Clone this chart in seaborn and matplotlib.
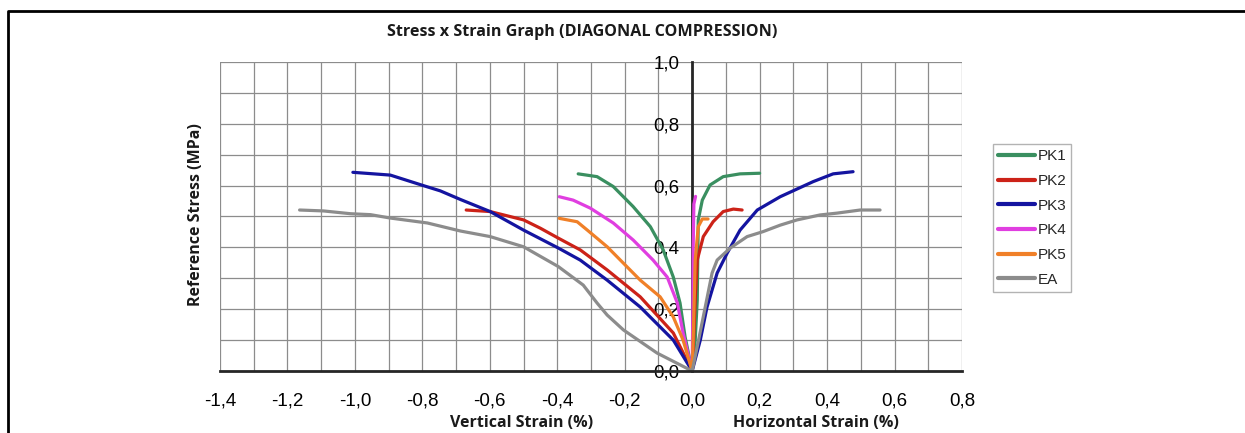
import numpy as np
import pandas as pd
import matplotlib
matplotlib.use("Agg")
import matplotlib.pyplot as plt
from matplotlib.ticker import MultipleLocator, FuncFormatter
import seaborn as sns

specimens = ["PK1", "PK2", "PK3", "PK4", "PK5", "EA"]
colors = ["#3a8f60", "#cc2218", "#1414a0", "#e03ee0", "#f08028", "#8c8c8c"]

# vertical strain branch (negative side) and horizontal strain branch (positive side)
pk1_vert_x = [-0.338, -0.282, -0.234, -0.175, -0.124, -0.086, -0.056, -0.036, -0.021, 0.0]
pk1_vert_y = [0.638, 0.629, 0.597, 0.532, 0.467, 0.392, 0.304, 0.220, 0.110, 0.0]
pk1_horz_x = [0.0, 0.009, 0.015, 0.018, 0.030, 0.053, 0.092, 0.142, 0.200]
pk1_horz_y = [0.0, 0.10, 0.23, 0.489, 0.553, 0.602, 0.629, 0.638, 0.640]

pk2_vert_x = [-0.670, -0.599, -0.500, -0.450, -0.397, -0.332, -0.252, -0.154, -0.056, 0.0]
pk2_vert_y = [0.521, 0.516, 0.489, 0.462, 0.430, 0.392, 0.327, 0.240, 0.123, 0.0]
pk2_horz_x = [0.0, 0.005, 0.009, 0.015, 0.033, 0.062, 0.092, 0.122, 0.148]
pk2_horz_y = [0.0, 0.12, 0.23, 0.359, 0.435, 0.483, 0.516, 0.524, 0.521]

pk3_vert_x = [-1.006, -0.895, -0.797, -0.747, -0.687, -0.599, -0.500, -0.397, -0.332, -0.252, -0.154, -0.056, 0.0]
pk3_vert_y = [0.643, 0.634, 0.600, 0.583, 0.555, 0.516, 0.456, 0.398, 0.359, 0.294, 0.207, 0.100, 0.0]
pk3_horz_x = [0.0, 0.024, 0.044, 0.074, 0.104, 0.142, 0.193, 0.261, 0.359, 0.418, 0.477]
pk3_horz_y = [0.0, 0.10, 0.207, 0.317, 0.382, 0.456, 0.521, 0.564, 0.613, 0.638, 0.645]

pk4_vert_x = [-0.394, -0.353, -0.302, -0.234, -0.175, -0.116, -0.074, -0.044, -0.027, 0.0]
pk4_vert_y = [0.564, 0.553, 0.527, 0.479, 0.424, 0.359, 0.304, 0.220, 0.123, 0.0]
pk4_horz_x = [0.0, 0.002, 0.003, 0.005, 0.010]
pk4_horz_y = [0.0, 0.20, 0.40, 0.54, 0.565]

pk5_vert_x = [-0.394, -0.341, -0.311, -0.252, -0.204, -0.154, -0.095, -0.056, -0.027, 0.0]
pk5_vert_y = [0.494, 0.483, 0.456, 0.402, 0.349, 0.294, 0.240, 0.175, 0.100, 0.0]
pk5_horz_x = [0.0, 0.004, 0.009, 0.018, 0.030, 0.047]
pk5_horz_y = [0.0, 0.142, 0.359, 0.467, 0.492, 0.492]

ea_vert_x = [-1.164, -1.093, -1.013, -0.954, -0.895, -0.785, -0.687, -0.599, -0.500, -0.397,
             -0.323, -0.282, -0.252, -0.204, -0.104, 0.0]
ea_vert_y = [0.521, 0.518, 0.509, 0.506, 0.495, 0.479, 0.453, 0.435, 0.402, 0.338,
             0.278, 0.220, 0.181, 0.133, 0.058, 0.0]
ea_horz_x = [0.0, 0.015, 0.033, 0.047, 0.059, 0.074, 0.113, 0.163, 0.210, 0.261, 0.311,
             0.379, 0.430, 0.498, 0.557]
ea_horz_y = [0.0, 0.079, 0.176, 0.252, 0.317, 0.359, 0.398, 0.435, 0.451, 0.472, 0.489,
             0.505, 0.511, 0.521, 0.521]

series = {
    "PK1": (pk1_vert_x, pk1_vert_y, pk1_horz_x, pk1_horz_y),
    "PK2": (pk2_vert_x, pk2_vert_y, pk2_horz_x, pk2_horz_y),
    "PK3": (pk3_vert_x, pk3_vert_y, pk3_horz_x, pk3_horz_y),
    "PK4": (pk4_vert_x, pk4_vert_y, pk4_horz_x, pk4_horz_y),
    "PK5": (pk5_vert_x, pk5_vert_y, pk5_horz_x, pk5_horz_y),
    "EA": (ea_vert_x, ea_vert_y, ea_horz_x, ea_horz_y),
}

frames = []
for name, (vx, vy, hx, hy) in series.items():
    frames.append(pd.DataFrame({"strain": vx, "stress": vy, "specimen": name, "branch": "vertical"}))
    frames.append(pd.DataFrame({"strain": hx, "stress": hy, "specimen": name, "branch": "horizontal"}))
df = pd.concat(frames, ignore_index=True)

sns.set_style("white")
plt.rcParams["font.family"] = ["Liberation Sans", "DejaVu Sans"]

fig = plt.figure(figsize=(12.45, 4.33), dpi=100)
ax = fig.add_axes([220 / 1245, 62 / 433, 742 / 1245, 309 / 433])

sns.lineplot(data=df, x="strain", y="stress", hue="specimen", units="branch",
             estimator=None, sort=False, hue_order=specimens,
             palette=dict(zip(specimens, colors)), linewidth=2.3, ax=ax)

ax.set_xlim(-1.4, 0.8)
ax.set_ylim(0, 1.0)
ax.xaxis.set_major_locator(MultipleLocator(0.2))
ax.xaxis.set_minor_locator(MultipleLocator(0.1))
ax.yaxis.set_major_locator(MultipleLocator(0.2))
ax.yaxis.set_minor_locator(MultipleLocator(0.1))
comma = FuncFormatter(lambda v, p: f"{v:.1f}".replace(".", ",").replace("-0,0", "0,0"))
ax.xaxis.set_major_formatter(comma)
ax.yaxis.set_major_formatter(comma)

ax.grid(which="both", color="#8c8c8c", linewidth=0.9)
ax.set_axisbelow(True)
for gl, loc in zip(ax.yaxis.get_gridlines(), ax.get_yticks()):
    if loc >= 0.999:
        gl.set_visible(False)

for s in ["top", "right"]:
    ax.spines[s].set_visible(False)
ax.spines["left"].set_position(("data", 0))
ax.spines["bottom"].set_position(("data", 0))
ax.spines["left"].set_linewidth(2)
ax.spines["bottom"].set_linewidth(2)
ax.spines["left"].set_zorder(1)

ax.tick_params(axis="both", which="major", direction="inout", length=8.6, width=1.6,
               labelsize=13.5, colors="black")
ax.tick_params(axis="both", which="minor", direction="in", length=3.6, width=1.4)
ax.tick_params(axis="x", which="major", pad=11)
ax.tick_params(axis="y", which="major", pad=5)
ax.set_xlabel("")
ax.set_ylabel("")

handles, labels = ax.get_legend_handles_labels()
leg = ax.legend(handles, labels, loc="upper left", bbox_to_anchor=(993 / 1245, 1 - 144 / 433),
                bbox_transform=fig.transFigure, frameon=True, fancybox=False,
                edgecolor="#a0a0a0", fontsize=11, handlelength=2.4, handletextpad=0.15,
                labelspacing=0.7, borderpad=0.35, borderaxespad=0)
leg.get_frame().set_linewidth(1)
for ln in leg.get_lines():
    ln.set_linewidth(3)

bold = dict(family=["Open Sans", "DejaVu Sans"], fontweight="bold", color="#1a1a1a")
fig.text(582 / 1245, 1 - 32 / 433, "Stress x Strain Graph (DIAGONAL COMPRESSION)",
         ha="center", va="center", fontsize=11.6, **bold)
fig.text(196 / 1245, 1 - 215 / 433, "Reference Stress (MPa)", rotation=90,
         ha="center", va="center", fontsize=11.5, **bold)
fig.text(522 / 1245, 1 - 423 / 433, "Vertical Strain (%)", ha="center", va="center",
         fontsize=11.5, **bold)
fig.text(816 / 1245, 1 - 423 / 433, "Horizontal Strain (%)", ha="center", va="center",
         fontsize=11.5, **bold)

# outer frame (top and left edges)
fig.add_artist(plt.Line2D([8 / 1245, 8 / 1245, 1.0], [0.0, 1 - 11 / 433, 1 - 11 / 433],
                          transform=fig.transFigure, color="black", linewidth=2))

fig.savefig("out.png", dpi=100)
